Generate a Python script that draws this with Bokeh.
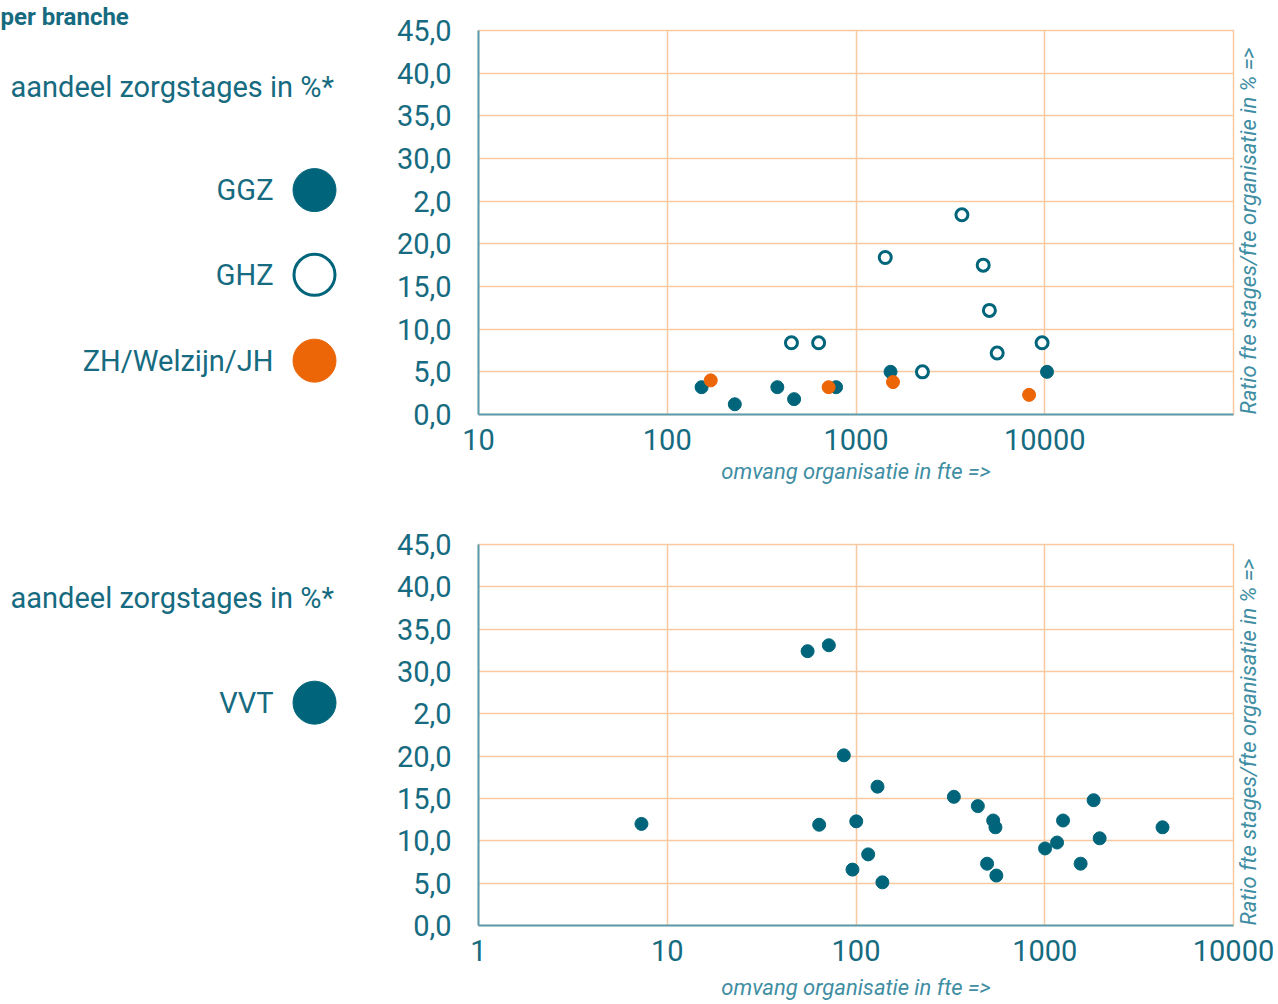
import math
from bokeh.plotting import figure
from bokeh.models import Range1d, FixedTicker, CustomJSTickFormatter, LinearAxis
from bokeh.layouts import row, column
from bokeh.embed import file_html
from bokeh.resources import INLINE
from bokeh.core.properties import value

# ---------------- data ----------------
ggz_fte = [152, 228, 383, 470, 784, 1524, 10280]
ggz_pct = [3.2, 1.2, 3.2, 1.8, 3.2, 5.0, 5.0]

ghz_fte = [455, 634, 1429, 2249, 3640, 4720, 5090, 5598, 9680]
ghz_pct = [8.4, 8.4, 18.4, 5.0, 23.4, 17.5, 12.2, 7.2, 8.4]

zh_fte = [170, 716, 1570, 8260]
zh_pct = [4.0, 3.2, 3.8, 2.3]

vvt_fte = [7.3, 55.4, 71.8, 86.2, 130, 63.8, 100.3, 116, 95.8, 138, 330, 442,
           533, 548, 495, 554, 1004, 1162, 1250, 1549, 1815, 1954, 4207]
vvt_pct = [12.0, 32.4, 33.1, 20.1, 16.4, 11.9, 12.3, 8.4, 6.6, 5.1, 15.2, 14.1,
           12.4, 11.6, 7.3, 5.9, 9.1, 9.8, 12.4, 7.3, 14.8, 10.3, 11.6]

y_ticks = [0, 5, 10, 15, 20, 25, 30, 35, 40, 45]
y_labels = ["0,0", "5,0", "10,0", "15,0", "20,0", "2,0", "30,0", "35,0", "40,0", "45,0"]
x_ticks_top = [10, 100, 1000, 10000]
x_labels_top = ["10", "100", "1000", "10000"]
x_ticks_bottom = [1, 10, 100, 1000, 10000]
x_labels_bottom = ["1", "10", "100", "1000", "10000"]

title_text = "per branche"
heading_text = "aandeel zorgstages in %*"
x_label = "omvang organisatie in fte =>"
y_label = "Ratio fte stages/fte organisatie in % =>"

# ---------------- style ----------------
TEAL = "#00657a"
ORANGE = "#ec6608"
TEXT = "#166b80"
LABEL = "#3f8ea3"
AXIS = "#5a9cb0"
GRID = "#f8c9a0"
FONT = "Roboto"

LEG_W = 388
CHART_W = 888
BORDER_L = 90
BORDER_R = 43


def fmt(vals, labels):
    return CustomJSTickFormatter(
        args=dict(vals=vals, labels=labels),
        code="const i = vals.indexOf(tick); return i >= 0 ? labels[i] : '';")


def legend_panel(height, top, bottom, page_top, entries, heading_y, with_title=False):
    # frame of this panel is aligned with the chart's frame; map data to page pixels
    frame_top = page_top + top
    frame_bottom = page_top + height - bottom
    kw = {}
    if with_title:
        kw["title"] = title_text
    f = figure(width=LEG_W, height=height, x_range=Range1d(0, LEG_W),
               y_range=Range1d(frame_bottom, frame_top), output_backend="svg",
               toolbar_location=None, x_axis_location=None, y_axis_location=None,
               min_border_left=0, min_border_right=0,
               min_border_top=top, min_border_bottom=bottom, **kw)
    f.grid.visible = False
    f.outline_line_color = None
    if with_title:
        f.title.text_font = FONT
        f.title.text_font_size = "24px"
        f.title.text_font_style = "bold"
        f.title.text_color = TEXT
        f.title.align = "left"
        f.title.standoff = 0
        f.title.offset = 0
    f.text(x=[10], y=[heading_y], text=[heading_text], text_font=value(FONT),
           text_font_size="29px", text_color=TEXT, text_baseline="middle",
           text_align="left")
    for name, ypos, kind in entries:
        f.text(x=[273], y=[ypos], text=[name], text_font=value(FONT),
               text_font_size="29px", text_color=TEXT, text_baseline="middle",
               text_align="right")
        if kind == "filled":
            f.scatter(x=[314], y=[ypos], size=43, fill_color=TEAL, line_color=TEAL)
        elif kind == "open":
            f.scatter(x=[314], y=[ypos], size=41, fill_color="white",
                      line_color=TEAL, line_width=3)
        else:
            f.scatter(x=[314], y=[ypos], size=43, fill_color=ORANGE, line_color=ORANGE)
    return f


def right_label_axis():
    ra = LinearAxis(ticker=FixedTicker(ticks=[]), axis_label=y_label,
                    axis_line_color=None, major_tick_line_color=None,
                    minor_tick_line_color=None, axis_label_standoff=15,
                    axis_label_text_font=FONT, axis_label_text_font_style="italic",
                    axis_label_text_font_size="22px", axis_label_text_color=LABEL,
                    axis_label_orientation=math.pi / 2)
    props = LinearAxis.properties()
    if "axis_label_align" in props:
        for v in ("left", "start"):
            try:
                ra.axis_label_align = v
                break
            except Exception:
                pass
    return ra


def chart(height, top, bottom, xr, xticks, xlabels, label_standoff):
    p = figure(width=CHART_W, height=height, x_axis_type="log",
               x_range=Range1d(*xr), y_range=Range1d(0, 45),
               output_backend="svg", toolbar_location=None,
               min_border_left=BORDER_L, min_border_right=BORDER_R,
               min_border_top=top, min_border_bottom=bottom)
    p.background_fill_color = "white"
    p.outline_line_color = GRID
    p.outline_line_width = 1.5

    p.xaxis.ticker = FixedTicker(ticks=xticks)
    p.xaxis.formatter = fmt(xticks, xlabels)
    p.yaxis.ticker = FixedTicker(ticks=y_ticks)
    p.yaxis.formatter = fmt(y_ticks, y_labels)

    for ax in (p.xaxis, p.yaxis):
        ax.major_label_text_font = FONT
        ax.major_label_text_font_size = "29px"
        ax.major_label_text_color = TEXT
        ax.axis_line_color = AXIS
        ax.axis_line_width = 2
        ax.major_tick_line_color = None
        ax.minor_tick_line_color = None
    p.yaxis.major_label_standoff = 21
    p.xaxis.major_label_standoff = 8

    p.xaxis.axis_label = x_label
    p.xaxis.axis_label_text_font = FONT
    p.xaxis.axis_label_text_font_style = "italic"
    p.xaxis.axis_label_text_font_size = "22px"
    p.xaxis.axis_label_text_color = LABEL
    p.xaxis.axis_label_standoff = label_standoff

    p.grid.grid_line_color = GRID
    p.grid.grid_line_width = 1.5

    p.add_layout(right_label_axis(), "right")
    return p


# ---------------- top section ----------------
H1, T1, B1 = 520, 29, 106
leg1 = legend_panel(H1, T1, B1, 0, [("GGZ", 189, "filled"), ("GHZ", 274, "open"),
                                     ("ZH/Welzijn/JH", 360, "orange")], 86, with_title=True)
p1 = chart(H1, T1, B1, (10, 100000), x_ticks_top, x_labels_top, 6)
p1.scatter(ggz_fte, ggz_pct, size=13, fill_color=TEAL, line_color=TEAL)
p1.scatter(ghz_fte, ghz_pct, size=12, fill_color="white", line_color=TEAL, line_width=3)
p1.scatter(zh_fte, zh_pct, size=13, fill_color=ORANGE, line_color=ORANGE)

# ---------------- bottom section ----------------
H2, T2, B2 = 482, 24, 75
leg2 = legend_panel(H2, T2, B2, H1, [("VVT", 703, "filled")], 598)
p2 = chart(H2, T2, B2, (1, 10000), x_ticks_bottom, x_labels_bottom, 11)
p2.scatter(vvt_fte, vvt_pct, size=13, fill_color=TEAL, line_color=TEAL)

layout = column(row(leg1, p1), row(leg2, p2))
open("out.html", "w").write(file_html(layout, INLINE))
